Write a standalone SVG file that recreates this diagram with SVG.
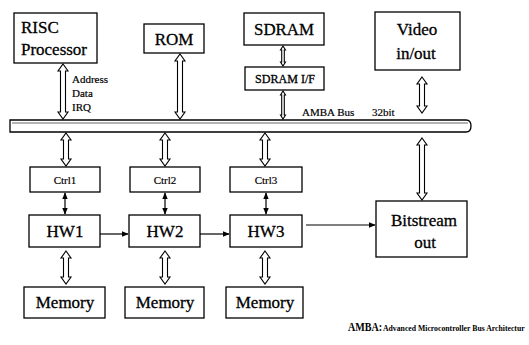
<svg xmlns="http://www.w3.org/2000/svg" width="529" height="345" viewBox="0 0 529 345">
<defs>
<style>
.box{fill:#fff;stroke:#000;stroke-width:1.3}
.t{font-family:"Liberation Serif","Times New Roman",serif;fill:#000;stroke:#000;stroke-width:0.3}
.big{font-size:17px}
.sm{font-size:11px;stroke-width:0.2}
.ft{font-weight:bold;stroke-width:0}
.ha{fill:#fff;stroke:#000;stroke-width:1.1}
.ln{stroke:#000;stroke-width:1.2;fill:none}
</style>
<marker id="ah" viewBox="0 0 10 10" refX="9" refY="5" markerWidth="7" markerHeight="7" orient="auto-start-reverse" markerUnits="userSpaceOnUse">
<path d="M0,1 L10,5 L0,9 Z" fill="#000"/>
</marker>
</defs>
<rect width="529" height="345" fill="#fff"/>

<g id="bus">
<path d="M10,120 L466,120 Q471,120 471,126 Q471,132 466,132 L10,132 Z" fill="#fff" stroke="#000" stroke-width="1.3"/>
<line x1="12" y1="123" x2="468" y2="123" stroke="#000" stroke-width="0.6"/>
<text class="t sm" x="302" y="116">AMBA Bus</text>
<text class="t sm" x="372" y="116">32bit</text>
</g>

<g id="risc"><rect class="box" x="14" y="13" width="83" height="50"/>
<text class="t big" x="21" y="33">RISC</text><text class="t big" x="21" y="55" textLength="66" lengthAdjust="spacingAndGlyphs">Processor</text></g>
<g id="rom"><rect class="box" x="144" y="24" width="60" height="29"/><text class="t big" x="174" y="45" text-anchor="middle">ROM</text></g>
<g id="sdram"><rect class="box" x="244" y="13" width="80" height="32"/><text class="t big" x="284" y="35" text-anchor="middle" textLength="60" lengthAdjust="spacingAndGlyphs">SDRAM</text></g>
<g id="sdramif"><rect class="box" x="245" y="67" width="79" height="23"/><text class="t" font-size="12" x="285" y="83" text-anchor="middle" textLength="60" lengthAdjust="spacingAndGlyphs">SDRAM I/F</text></g>
<g id="video"><rect class="box" x="375" y="12" width="85" height="58"/><text class="t big" x="417" y="35" text-anchor="middle">Video</text><text class="t big" x="416" y="59" text-anchor="middle">in/out</text></g>

<g id="ctrl1"><rect class="box" x="30" y="167" width="70" height="25"/><text class="t sm" x="65" y="184" text-anchor="middle">Ctrl1</text></g>
<g id="ctrl2"><rect class="box" x="130" y="167" width="70" height="25"/><text class="t sm" x="165" y="184" text-anchor="middle">Ctrl2</text></g>
<g id="ctrl3"><rect class="box" x="230" y="167" width="72" height="25"/><text class="t sm" x="266" y="184" text-anchor="middle">Ctrl3</text></g>

<g id="hw1"><rect class="box" x="29" y="215" width="71" height="32"/><text class="t big" x="65" y="237" text-anchor="middle">HW1</text></g>
<g id="hw2"><rect class="box" x="129" y="215" width="71" height="32"/><text class="t big" x="165" y="237" text-anchor="middle">HW2</text></g>
<g id="hw3"><rect class="box" x="230" y="215" width="72" height="32"/><text class="t big" x="266" y="237" text-anchor="middle">HW3</text></g>
<g id="bitstream"><rect class="box" x="376" y="201" width="91" height="56"/><text class="t big" x="424" y="226" text-anchor="middle">Bitstream</text><text class="t big" x="425" y="248" text-anchor="middle">out</text></g>

<g id="mem1"><rect class="box" x="24" y="287" width="81" height="31"/><text class="t big" x="65" y="308" text-anchor="middle">Memory</text></g>
<g id="mem2"><rect class="box" x="125" y="287" width="79" height="31"/><text class="t big" x="165" y="308" text-anchor="middle">Memory</text></g>
<g id="mem3"><rect class="box" x="226" y="287" width="77" height="31"/><text class="t big" x="265" y="308" text-anchor="middle">Memory</text></g>

<g id="connectors">
<path class="ha" d="M63,64 L68,71 L65.5,71 L65.5,112 L68,112 L63,119 L58,112 L60.5,112 L60.5,71 L58,71 Z"/>
<path class="ha" d="M180,54 L185,61 L182.5,61 L182.5,112 L185,112 L180,119 L175,112 L177.5,112 L177.5,61 L175,61 Z"/>
<path class="ha" d="M422,77 L427,84 L424.5,84 L424.5,106 L427,106 L422,113 L417,106 L419.5,106 L419.5,84 L417,84 Z"/>
<path class="ha" d="M283,46 L285.5,50 L284.3,50 L284.3,62 L285.5,62 L283,66 L280.5,62 L281.7,62 L281.7,50 L280.5,50 Z"/>
<path class="ha" d="M283,91 L285.5,95 L284.3,95 L284.3,115 L285.5,115 L283,119 L280.5,115 L281.7,115 L281.7,95 L280.5,95 Z"/>
<path class="ha" d="M66,133 L71,140 L68.5,140 L68.5,159 L71,159 L66,166 L61,159 L63.5,159 L63.5,140 L61,140 Z"/>
<path class="ha" d="M165,133 L170,140 L167.5,140 L167.5,159 L170,159 L165,166 L160,159 L162.5,159 L162.5,140 L160,140 Z"/>
<path class="ha" d="M265,133 L270,140 L267.5,140 L267.5,159 L270,159 L265,166 L260,159 L262.5,159 L262.5,140 L260,140 Z"/>
<path class="ha" d="M422,138 L427,145 L424.5,145 L424.5,193 L427,193 L422,200 L417,193 L419.5,193 L419.5,145 L417,145 Z"/>
<path class="ha" d="M66,251 L71,258 L68.5,258 L68.5,277 L71,277 L66,284 L61,277 L63.5,277 L63.5,258 L61,258 Z"/>
<path class="ha" d="M165,251 L170,258 L167.5,258 L167.5,277 L170,277 L165,284 L160,277 L162.5,277 L162.5,258 L160,258 Z"/>
<path class="ha" d="M265,251 L270,258 L267.5,258 L267.5,277 L270,277 L265,284 L260,277 L262.5,277 L262.5,258 L260,258 Z"/>
<line class="ln" x1="65" y1="193" x2="65" y2="214" marker-start="url(#ah)" marker-end="url(#ah)"/>
<line class="ln" x1="165" y1="193" x2="165" y2="214" marker-start="url(#ah)" marker-end="url(#ah)"/>
<line class="ln" x1="266" y1="193" x2="266" y2="214" marker-start="url(#ah)" marker-end="url(#ah)"/>
<line class="ln" x1="100" y1="234" x2="128" y2="234" marker-end="url(#ah)"/>
<line class="ln" x1="200" y1="234" x2="229" y2="234" marker-end="url(#ah)"/>
<line class="ln" x1="306" y1="225" x2="375" y2="225" marker-end="url(#ah)"/>
</g>

<g id="labels">
<text class="t sm" x="72" y="83">Address</text>
<text class="t sm" x="72" y="97">Data</text>
<text class="t sm" x="72" y="111">IRQ</text>
<text class="t ft" font-size="12" transform="translate(348,331) scale(0.84,1)">AMBA:</text>
<text class="t ft" font-size="9" transform="translate(383,331) scale(0.86,1)">Advanced Microcontroller Bus Architectur</text>
</g>
</svg>
